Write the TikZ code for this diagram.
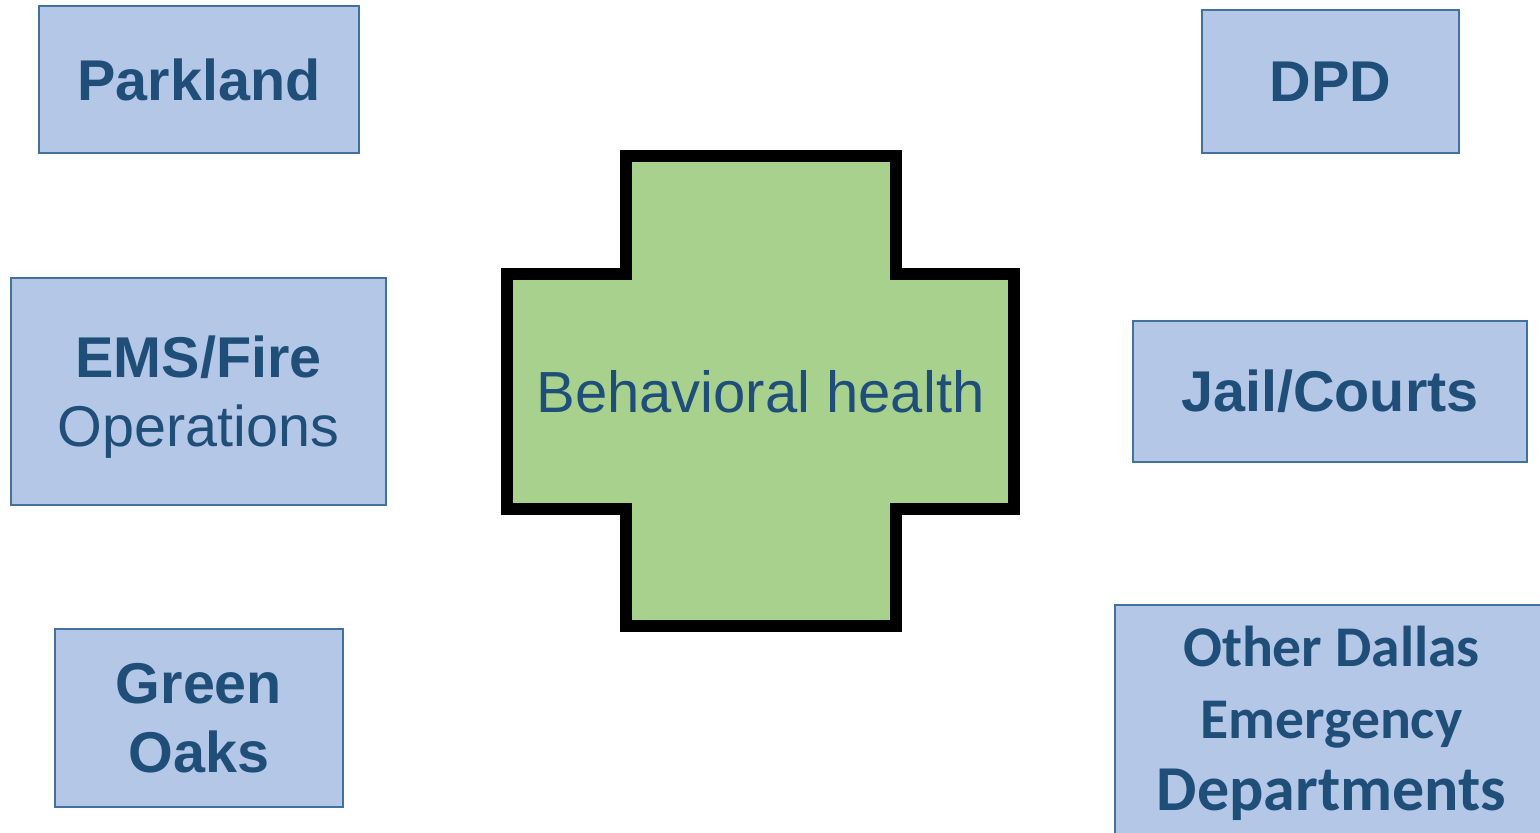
\documentclass[tikz,border=0pt]{standalone}
\usepackage{fontspec}
\setmainfont{Liberation Sans}
\newfontfamily\calibrifont{Carlito}
\definecolor{boxfill}{HTML}{B4C7E7}
\definecolor{boxline}{HTML}{41719C}
\definecolor{boxtext}{HTML}{1F4E79}
\definecolor{crossfill}{HTML}{A9D18E}

\begin{document}
\begin{tikzpicture}[
    x=0.5pt, y=-0.5pt,
    agency/.style={
      draw=boxline,
      fill=boxfill,
      line width=1pt,
      text=boxtext,
      align=center,
      inner sep=0pt,
      font=\bfseries\fontsize{28.75}{34.5}\selectfont
    },
    crossline/.style={
      draw=black,
      fill=crossfill,
      line width=6pt,
      line join=miter
    }
  ]

    % Page area
    \clip (0,0) rectangle (1540,833);
    \fill[white] (0,0) rectangle (1540,833);

    % Behavioral health cross
    \draw[crossline] (626,156) -- (896,156) -- (896,274) -- (1014,274)
      -- (1014,509) -- (896,509) -- (896,626) -- (626,626) -- (626,509)
      -- (507,509) -- (507,274) -- (626,274) -- cycle;
    \node[text=boxtext, font=\fontsize{29}{34.8}\selectfont] (health) at (760.5,391.5) {Behavioral health};

    % Left column
    \node[agency, minimum width=160pt, minimum height=73.5pt] (parkland) at (199,79.5) {Parkland};
    \node[agency, minimum width=187.5pt, minimum height=113.5pt, text depth=0pt] (ems) at (198.5,391.5) {EMS/Fire\\\mdseries Operations};
    \node[agency, minimum width=144pt, minimum height=89pt] (greenoaks) at (199,718) {Green\\Oaks};

    % Right column
    \node[agency, minimum width=128.5pt, minimum height=71.5pt] (dpd) at (1330.5,81.5) {DPD};
    \node[agency, minimum width=197pt, minimum height=70.5pt] (jail) at (1330,391.5) {Jail/Courts};
    \node[agency, minimum width=216.5pt, minimum height=118.5pt,
      font=\calibrifont\bfseries\fontsize{28.8}{36}\selectfont] (otherdallas) at (1331.5,723) {
      Other Dallas\\Emergency\\\fontsize{32}{36}\selectfont Departments
    };

  \end{tikzpicture}
\end{document}
